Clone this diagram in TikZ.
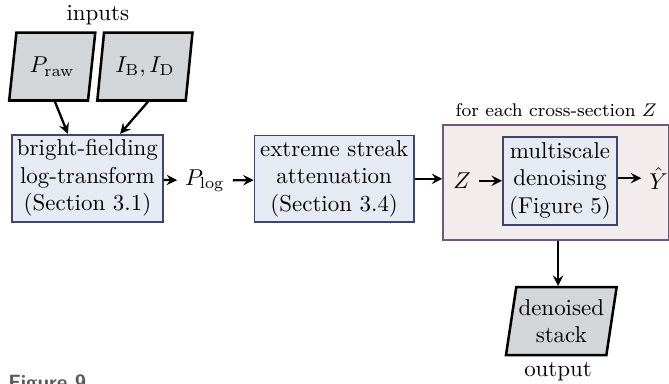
\documentclass[tikz,border=0pt]{standalone}
\usepackage{amsmath, amssymb}
\usepackage{tikz}
\usetikzlibrary{shapes.geometric, calc}

\definecolor{boxfill}{HTML}{E6EAF3}
\definecolor{boxline}{HTML}{40456A}
\definecolor{loopfill}{HTML}{F3ECEC}
\definecolor{loopline}{HTML}{6E5A78}
\definecolor{datafill}{HTML}{D3D6D9}
\definecolor{capgray}{HTML}{5A5A5A}

\tikzset{
	stagebox/.style = {draw = boxline, fill = boxfill, line width = 0.8pt, align = center, inner sep = 2pt, minimum height = 1.33cm},
	databox/.style = {trapezium, trapezium left angle = 78, trapezium right angle = 102, trapezium stretches = true, draw = black, fill = datafill, line width = 1.1pt, align = center, inner sep = 1pt, minimum height = 1.04cm},
	flow/.style = {->, >=stealth, line width = 1pt}
}

\begin{document}
\begin{tikzpicture}
			\clip (0, 0) rectangle (10.25, -5.883);
			\node (inputs) at (1.50, -0.23) {inputs};
			\node[databox, minimum width = 1.32cm] (praw) at (0.80, -1.02) {$P_{\mathrm{raw}}$};
			\node[databox, minimum width = 1.46cm] (ibd) at (2.22, -1.02) {$I_{\mathrm{B}}, I_{\mathrm{D}}$};
			\node[stagebox, minimum width = 2.31cm] (bf) at (1.34, -2.73) {bright-fielding\\log-transform\\(Section 3.1)};
			\node (plog) at (3.14, -2.77) {$P_{\log}$};
			\node[stagebox, minimum width = 2.44cm] (es) at (5.12, -2.74) {extreme streak\\attenuation\\(Section 3.4)};
			\node[draw = loopline, fill = loopfill, line width = 0.8pt, minimum width = 3.46cm, minimum height = 1.76cm] (loop) at (8.52, -2.80) {};
			\node[font = \footnotesize, above = 0pt] (looplabel) at (loop.north) {for each cross-section $Z$};
			\node (z) at (7.08, -2.77) {$Z$};
			\node[stagebox, minimum width = 1.75cm, minimum height = 1.35cm] (md) at (8.58, -2.77) {multiscale\\denoising\\(Figure 5)};
			\node (yhat) at (10.09, -2.73) {$\hat{Y}$};
			\node[databox, minimum width = 1.69cm] (stack) at (8.60, -4.92) {denoised\\stack};
			\node (output) at (8.55, -5.70) {output};
			\node[anchor = north west, inner sep = 0pt, text = capgray, font = \sffamily\bfseries\small] (fig) at (0.12, -5.74) {Figure 9};
			\draw[flow] ($(praw.bottom side)+(0.1, 0)$) -- ($(bf.north)+(-0.3, 0)$);
			\draw[flow] ($(ibd.bottom side)+(0.1, 0)$) -- ($(bf.north)+(0.5, 0)$);
			\draw[flow] (bf) -- (plog);
			\draw[flow] (plog) -- (es);
			\draw[flow] (es) -- (loop.west |- es);
			\draw[flow] (z) -- (md.west |- z);
			\draw[flow] (md.east |- yhat) -- (yhat);
			\draw[flow] (loop.south -| output) -- (stack.north -| output);
		\end{tikzpicture}
\end{document}
